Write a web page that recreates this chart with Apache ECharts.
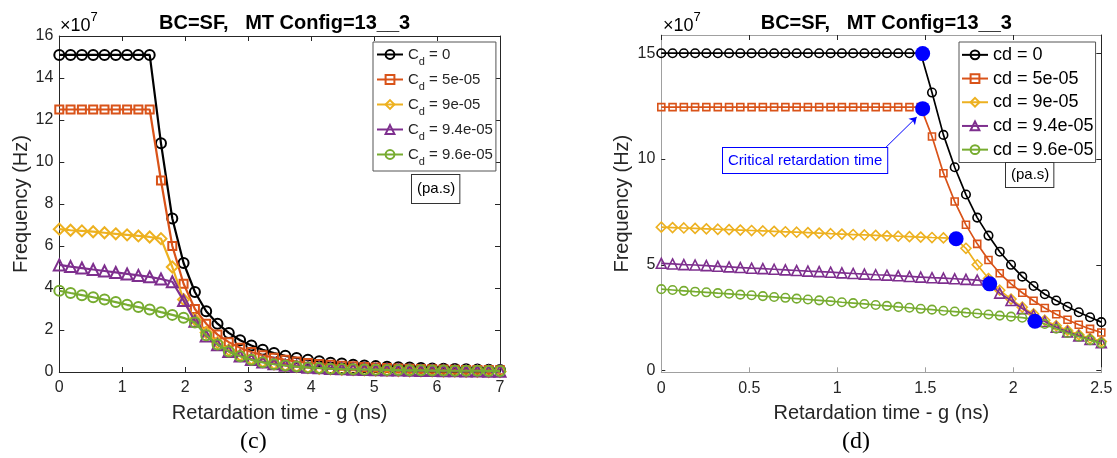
<!DOCTYPE html>
<html>
<head>
<meta charset="utf-8">
<script src="https://cdn.jsdelivr.net/npm/echarts@6/dist/echarts.min.js"></script>
<style>
  html, body { margin: 0; padding: 0; background: #fff; }
  #chart { width: 1117px; height: 458px; }
</style>
</head>
<body>
<div id="chart"></div>
<script>
// retardation time grids (ns)
const leftX = [0, 0.179, 0.359, 0.538, 0.718, 0.897, 1.077, 1.256, 1.436, 1.615,
  1.795, 1.974, 2.154, 2.333, 2.513, 2.692, 2.872, 3.051, 3.231, 3.410,
  3.590, 3.769, 3.949, 4.128, 4.308, 4.487, 4.667, 4.846, 5.026, 5.205,
  5.385, 5.564, 5.744, 5.923, 6.103, 6.282, 6.462, 6.641, 6.821, 7.0];
const rightX = [0, 0.064, 0.128, 0.192, 0.256, 0.321, 0.385, 0.449, 0.513, 0.577,
  0.641, 0.705, 0.769, 0.833, 0.897, 0.962, 1.026, 1.090, 1.154, 1.218,
  1.282, 1.346, 1.410, 1.474, 1.538, 1.603, 1.667, 1.731, 1.795, 1.859,
  1.923, 1.987, 2.051, 2.115, 2.179, 2.244, 2.308, 2.372, 2.436, 2.5];

const leftNames = ["Cd = 0", "Cd = 5e-05", "Cd = 9e-05", "Cd = 9.4e-05", "Cd = 9.6e-05"];
const rightNames = ["cd = 0", "cd = 5e-05", "cd = 9e-05", "cd = 9.4e-05", "cd = 9.6e-05"];

// frequency, x1e7 Hz
const leftCd0 = [15.1, 15.1, 15.1, 15.1, 15.1, 15.1, 15.1, 15.1, 15.1, 10.89,
  7.31, 5.19, 3.81, 2.89, 2.30, 1.86, 1.51, 1.26, 1.06, 0.90,
  0.77, 0.67, 0.58, 0.51, 0.44, 0.40, 0.35, 0.31, 0.28, 0.25,
  0.23, 0.21, 0.19, 0.17, 0.16, 0.14, 0.13, 0.12, 0.11, 0.10];
const leftCd1 = [12.5, 12.5, 12.5, 12.5, 12.5, 12.5, 12.5, 12.5, 12.5, 9.12,
  6.0, 4.2, 3.0, 2.3, 1.78, 1.42, 1.15, 0.95, 0.80, 0.68,
  0.58, 0.50, 0.43, 0.38, 0.34, 0.30, 0.27, 0.24, 0.21, 0.19,
  0.17, 0.16, 0.14, 0.13, 0.12, 0.11, 0.10, 0.09, 0.09, 0.08];
const leftCd2 = [6.8, 6.75, 6.72, 6.68, 6.63, 6.58, 6.53, 6.48, 6.43, 6.35,
  5.0, 3.45, 2.5, 1.88, 1.4, 1.05, 0.8, 0.62, 0.49, 0.39,
  0.31, 0.26, 0.21, 0.18, 0.15, 0.13, 0.11, 0.10, 0.09, 0.08,
  0.07, 0.06, 0.05, 0.05, 0.04, 0.04, 0.03, 0.03, 0.02, 0.02];
const leftCd3 = [5.1, 5.02, 4.95, 4.88, 4.81, 4.74, 4.67, 4.6, 4.53, 4.43,
  4.3, 3.4, 2.42, 1.72, 1.3, 0.98, 0.76, 0.6, 0.48, 0.39,
  0.32, 0.27, 0.23, 0.2, 0.17, 0.15, 0.13, 0.12, 0.11, 0.1,
  0.09, 0.08, 0.07, 0.07, 0.06, 0.06, 0.05, 0.05, 0.04, 0.04];
const leftCd4 = [3.87, 3.76, 3.66, 3.56, 3.45, 3.33, 3.2, 3.09, 2.98, 2.85,
  2.72, 2.58, 2.36, 1.75, 1.31, 0.98, 0.75, 0.58, 0.46, 0.37,
  0.31, 0.26, 0.22, 0.19, 0.16, 0.14, 0.13, 0.12, 0.11, 0.1,
  0.09, 0.08, 0.08, 0.07, 0.07, 0.06, 0.06, 0.06, 0.05, 0.05];

const rightCd0 = [15.0, 15.0, 15.0, 15.0, 15.0, 15.0, 15.0, 15.0, 15.0, 15.0,
  15.0, 15.0, 15.0, 15.0, 15.0, 15.0, 15.0, 15.0, 15.0, 15.0,
  15.0, 15.0, 15.0, 15.0, 13.14, 11.14, 9.61, 8.32, 7.23, 6.38,
  5.62, 5.0, 4.44, 4.0, 3.61, 3.31, 3.02, 2.76, 2.52, 2.29];
const rightCd1 = [12.45, 12.45, 12.45, 12.45, 12.45, 12.45, 12.45, 12.45, 12.45, 12.45,
  12.45, 12.45, 12.45, 12.45, 12.45, 12.45, 12.45, 12.45, 12.45, 12.45,
  12.45, 12.45, 12.45, 12.45, 11.06, 9.33, 7.99, 6.89, 5.99, 5.23,
  4.6, 4.1, 3.68, 3.3, 2.96, 2.66, 2.4, 2.17, 1.97, 1.8];
const rightCd2 = [6.78, 6.76, 6.74, 6.72, 6.70, 6.68, 6.66, 6.64, 6.62, 6.60,
  6.58, 6.56, 6.54, 6.52, 6.50, 6.47, 6.45, 6.43, 6.41, 6.39,
  6.37, 6.35, 6.33, 6.31, 6.29, 6.27, 6.25, 5.78, 5.0, 4.35,
  3.8, 3.38, 3.0, 2.68, 2.38, 2.12, 1.9, 1.7, 1.53, 1.38];
const rightCd3 = [5.07, 5.04, 5.01, 4.99, 4.96, 4.93, 4.90, 4.87, 4.84, 4.82,
  4.79, 4.76, 4.73, 4.70, 4.68, 4.65, 4.62, 4.59, 4.56, 4.53,
  4.51, 4.48, 4.45, 4.42, 4.39, 4.37, 4.34, 4.31, 4.28, 4.22,
  3.66, 3.31, 2.93, 2.62, 2.32, 2.05, 1.83, 1.64, 1.47, 1.32];
const rightCd4 = [3.85, 3.81, 3.77, 3.73, 3.70, 3.66, 3.63, 3.59, 3.56, 3.52,
  3.48, 3.44, 3.40, 3.36, 3.32, 3.28, 3.23, 3.19, 3.15, 3.10,
  3.06, 3.01, 2.97, 2.92, 2.88, 2.83, 2.79, 2.74, 2.70, 2.65,
  2.60, 2.55, 2.50, 2.42, 2.2, 1.98, 1.78, 1.6, 1.44, 1.29];

// critical retardation points (blue dots)
const criticalX = [1.485, 1.485, 1.675, 1.866, 2.123];
const criticalY = [14.98, 12.38, 6.23, 4.1, 2.33];

const rightY_ticks = [0, 5, 10, 15];

const colors = ["#000000", "#D95319", "#EDB120", "#7E2F8E", "#77AC30"];
const symbols = ["circle", "rect", "diamond", "triangle", "circle"];
const FONT = '"Liberation Sans", Arial, sans-serif';
const TXT = "#262626";
const GRAY = "#a0a0a0";

function lineSeries(name, xs, ys, i, axis, look) {
  return {
    type: "line",
    name: name,
    xAxisIndex: axis,
    yAxisIndex: axis,
    data: xs.map((x, k) => [x, ys[k]]),
    symbol: symbols[i],
    symbolSize: look.sizes[i],
    lineStyle: { color: colors[i], width: look.lineWidth },
    itemStyle: { color: "rgba(255,255,255,0)", borderColor: colors[i], borderWidth: look.border },
    emphasis: { disabled: true },
    z: 3 + i
  };
}

function valueAxis(extra) {
  return Object.assign({
    type: "value",
    splitLine: { show: false },
    axisLine: { show: true, onZero: false, lineStyle: { color: TXT, width: 1 } },
    axisTick: { show: true, inside: true, length: 5, lineStyle: { color: TXT } },
    axisLabel: { show: false }
  }, extra);
}

const tickLabel = { show: true, color: TXT, fontFamily: FONT, fontSize: 16 };
const axisName = { color: TXT, fontFamily: FONT, fontSize: 20 };

const leftLook = { sizes: [10, 8, 11, 11, 10], lineWidth: 2.2, border: 2 };
const rightLook = { sizes: [8.5, 7, 10, 10, 8.5], lineWidth: 1.7, border: 1.6 };

const leftData = [leftCd0, leftCd1, leftCd2, leftCd3, leftCd4];
const rightData = [rightCd0, rightCd1, rightCd2, rightCd3, rightCd4];

const series = [];
leftData.forEach((ys, i) => series.push(lineSeries(leftNames[i], leftX, ys, i, 0, leftLook)));
rightData.forEach((ys, i) => series.push(lineSeries(rightNames[i], rightX, ys, i, 2, rightLook)));
series.push({
  type: "scatter",
  xAxisIndex: 2,
  yAxisIndex: 2,
  data: criticalX.map((x, k) => [x, criticalY[k]]),
  symbolSize: 15,
  itemStyle: { color: "#0000ff", opacity: 1 },
  emphasis: { disabled: true },
  z: 10,
  markLine: {
    silent: true,
    symbol: ["none", "arrow"],
    symbolSize: 7,
    lineStyle: { color: "#0000ff", width: 1, type: "solid" },
    label: { show: false },
    data: [[{ coord: [1.277, 10.56] }, { coord: [1.451, 11.98] }]]
  }
});

const subRich = {
  c: { fontFamily: FONT, fontSize: 15, lineHeight: 26, color: TXT },
  s: { fontFamily: FONT, fontSize: 11, lineHeight: 12, padding: [14, 0, 0, 0], color: TXT },
  t: { fontFamily: FONT, fontSize: 15, lineHeight: 26, color: TXT }
};

const expRich = {
  a: { fontFamily: FONT, fontSize: 18, lineHeight: 24, color: TXT, verticalAlign: "bottom" },
  b: { fontFamily: FONT, fontSize: 13, lineHeight: 13, color: TXT, verticalAlign: "top" }
};

const titleStyle = { fontFamily: FONT, fontSize: 20, fontWeight: "bold", color: "#000" };

const option = {
  animation: false,
  backgroundColor: "#fff",
  title: [
    { text: "BC=SF,   MT Config=13__3", left: 279.6, top: 8, textAlign: "center", textStyle: titleStyle },
    { text: "BC=SF,   MT Config=13__3", left: 881.3, top: 8, textAlign: "center", textStyle: titleStyle }
  ],
  grid: [
    { left: 59.3, top: 36, width: 440.7, height: 336 },
    { left: 661.3, top: 35, width: 440, height: 337.3 }
  ],
  xAxis: [
    valueAxis({ gridIndex: 0, min: 0, max: 7, interval: 1, position: "bottom",
      axisLabel: Object.assign({ margin: 8 }, tickLabel),
      name: "Retardation time - g (ns)", nameLocation: "middle", nameGap: 31, nameTextStyle: axisName }),
    valueAxis({ gridIndex: 0, min: 0, max: 7, interval: 1, position: "top" }),
    valueAxis({ gridIndex: 1, min: 0, max: 2.5, interval: 0.5, position: "bottom",
      axisLine: { show: true, onZero: false, lineStyle: { color: GRAY } },
      axisTick: { show: true, inside: true, length: 5, lineStyle: { color: GRAY } },
      axisLabel: Object.assign({ margin: 8 }, tickLabel),
      name: "Retardation time - g (ns)", nameLocation: "middle", nameGap: 31, nameTextStyle: axisName }),
    valueAxis({ gridIndex: 1, min: 0, max: 2.5, interval: 0.5, position: "top",
      axisLine: { show: true, onZero: false, lineStyle: { color: GRAY } },
      axisTick: { show: true, inside: true, length: 5, lineStyle: { color: TXT } } })
  ],
  yAxis: [
    valueAxis({ gridIndex: 0, min: 0, max: 16, interval: 2, position: "left",
      axisLabel: Object.assign({ margin: 6 }, tickLabel),
      name: "Frequency (Hz)", nameLocation: "middle", nameGap: 27, nameTextStyle: axisName }),
    valueAxis({ gridIndex: 0, min: 0, max: 16, interval: 2, position: "right" }),
    valueAxis({ gridIndex: 1, min: -0.08, max: 15.86, position: "left",
      axisLine: { show: true, onZero: false, lineStyle: { color: GRAY } },
      axisTick: { show: true, inside: true, length: 4, customValues: rightY_ticks, lineStyle: { color: TXT } },
      axisLabel: Object.assign({ margin: 6, customValues: rightY_ticks }, tickLabel),
      name: "Frequency (Hz)", nameLocation: "middle", nameGap: 29, nameTextStyle: axisName }),
    valueAxis({ gridIndex: 1, min: -0.08, max: 15.86, position: "right",
      axisTick: { show: true, inside: true, length: 5, customValues: rightY_ticks, lineStyle: { color: TXT } } })
  ],
  legend: [
    {
      data: leftNames, orient: "vertical", left: 373, top: 42,
      padding: [0, 3, 4, 3], itemGap: 0, itemWidth: 26, itemHeight: 11,
      borderColor: "#555", borderWidth: 1, backgroundColor: "#fff",
      selectedMode: false,
      formatter: (name) => "{c|C}{s|d}{t|" + name.slice(2) + "}",
      textStyle: { rich: subRich }
    },
    {
      data: rightNames, orient: "vertical", left: 959, top: 42,
      padding: [1, 2, 1, 2], itemGap: 0, itemWidth: 26, itemHeight: 11,
      borderColor: "#555", borderWidth: 1, backgroundColor: "#fff",
      selectedMode: false,
      textStyle: { fontFamily: FONT, fontSize: 18, lineHeight: 23.7, color: "#000" }
    }
  ],
  graphic: [
    { type: "text", left: 60, top: 11, style: { text: "{a|×10}{b|7}", rich: expRich } },
    { type: "text", left: 663, top: 11, style: { text: "{a|×10}{b|7}", rich: expRich } },
    { type: "text", left: 411, top: 174, z: 20,
      style: { text: "(pa.s)", fontFamily: FONT, fontSize: 15, lineHeight: 18, fill: "#000",
        backgroundColor: "#fff", borderColor: "#333", borderWidth: 1, padding: [5, 4, 5, 5] } },
    { type: "text", left: 1005, top: 162, z: 20,
      style: { text: "(pa.s)", fontFamily: FONT, fontSize: 15, lineHeight: 18, fill: "#000",
        backgroundColor: "#fff", borderColor: "#333", borderWidth: 1, padding: [3, 4, 3, 5] } },
    { type: "text", left: 722, top: 147, z: 20,
      style: { text: "Critical retardation time", fontFamily: FONT, fontSize: 15, lineHeight: 17,
        fill: "#0000ff", backgroundColor: "#fff", borderColor: "#0000ff", borderWidth: 1, padding: [4, 5, 4, 5] } },
    { type: "text", left: 240, top: 430, style: { text: "(c)", fontFamily: '"Liberation Serif", serif',
        fontSize: 24, fill: "#000" } },
    { type: "text", left: 842, top: 430, style: { text: "(d)", fontFamily: '"Liberation Serif", serif',
        fontSize: 24, fill: "#000" } }
  ],
  series: series
};

const chart = echarts.init(document.getElementById("chart"));
chart.setOption(option);
</script>
</body>
</html>
